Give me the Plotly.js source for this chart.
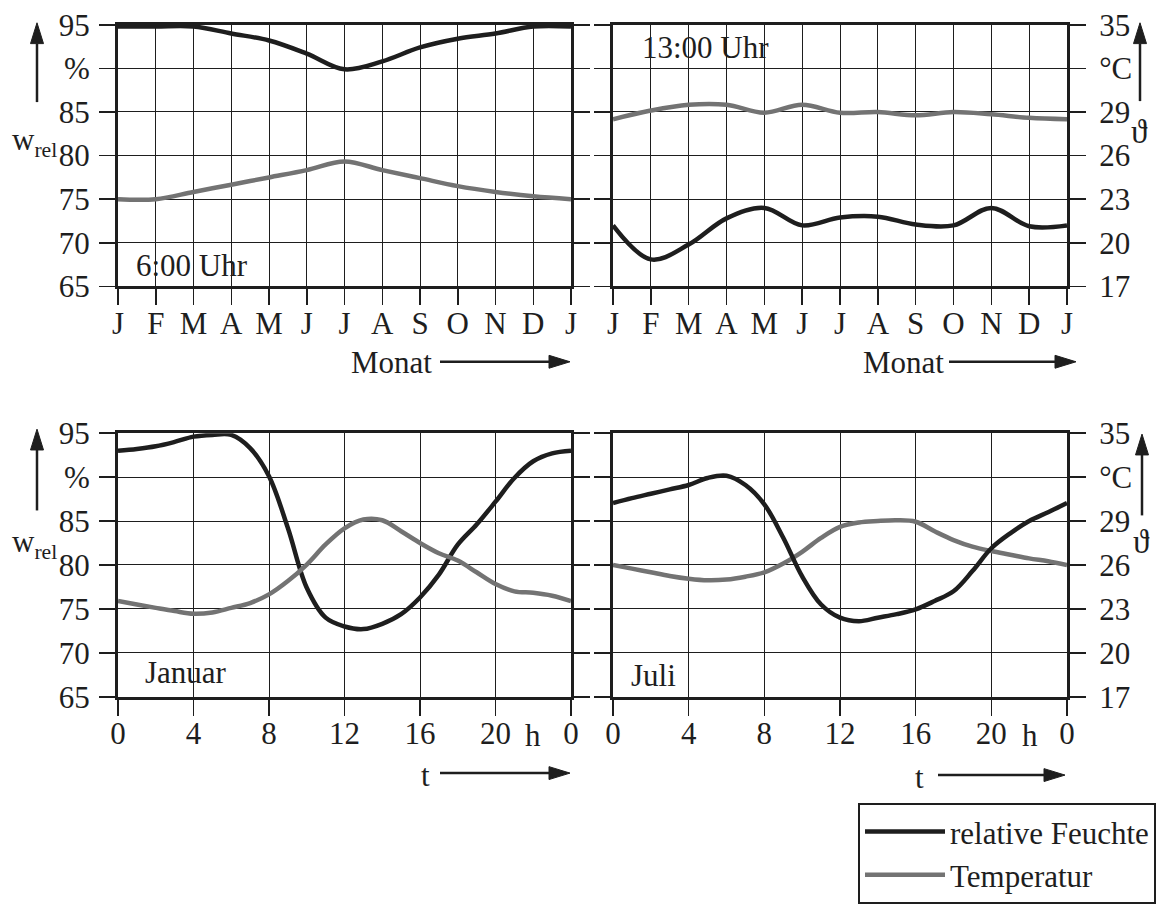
<!DOCTYPE html>
<html>
<head>
<meta charset="utf-8">
<script src="https://cdn.plot.ly/plotly-3.0.1.min.js"></script>
<style>html,body{margin:0;padding:0;background:#fff;}#chart{width:1167px;height:904px;}</style>
</head>
<body>
<div id="chart"></div>
<script>
// ---------- data ----------
const monthLabels = ['J','F','M','A','M','J','J','A','S','O','N','D','J'];
const monthIdx = [0,1,2,3,4,5,6,7,8,9,10,11,12];
const hourLabels = ['0','4','8','12','16','20','0'];
const hourTicks = [0,4,8,12,16,20,24];
const hours = [0,1,2,3,4,5,6,7,8,9,10,11,12,13,14,15,16,17,18,19,20,21,22,23,24];

const humidityTicks = [65,70,75,80,85,90,95];
const humidityTickText = ['65','70','75','80','85','%','95'];
const tempTicks = [17,20,23,26,29,32,35];
const tempTickText = ['17','20','23','26','29','°C','35'];

// 6:00 Uhr, monthly
const hum6 = [94.8,94.8,94.8,94.0,93.2,91.7,89.9,90.8,92.4,93.4,94.0,94.8,94.8];
const temp6 = [23.0,23.0,23.5,24.0,24.5,25.0,25.6,25.0,24.45,23.9,23.5,23.2,23.0];
// 13:00 Uhr, monthly
const hum13 = [72.0,68.1,69.8,72.8,74.0,72.0,72.9,73.0,72.1,72.0,74.0,71.9,72.0];
const temp13 = [28.5,29.1,29.5,29.5,28.95,29.5,28.95,29.0,28.77,29.0,28.84,28.6,28.5];
// Januar, hourly
const humJan = [93.0,93.2,93.5,94.0,94.6,94.8,94.8,93.3,90.1,84.2,77.4,74.0,73.0,72.7,73.3,74.4,76.3,78.9,82.3,84.6,87.2,89.9,91.8,92.7,93.0];
const tempJan = [23.54,23.3,23.07,22.85,22.67,22.76,23.07,23.4,23.99,24.9,26.03,27.4,28.5,29.1,29.05,28.3,27.5,26.8,26.3,25.5,24.7,24.2,24.1,23.9,23.54];
// Juli, hourly
const humJul = [87.05,87.6,88.1,88.6,89.1,89.9,90.15,89.1,86.9,83.1,78.7,75.5,74.0,73.6,74.0,74.4,74.95,75.9,77.0,79.3,81.9,83.6,85.0,86.0,87.05];
const tempJul = [26.0,25.75,25.5,25.25,25.06,24.95,25.0,25.2,25.5,26.1,26.9,27.85,28.6,28.9,29.0,29.05,28.95,28.3,27.7,27.25,26.95,26.7,26.45,26.25,26.0];

const seriesNames = ['relative Feuchte','Temperatur'];

// ---------- style ----------
const W = 1167, H = 904;
const INK = '#1e1e1e';
const GRAY = '#737373';
const FONT = 'Liberation Serif, Times New Roman, serif';
const FS = 31;
const px = x => x / W;
const py = y => 1 - y / H;

const domLeft = [px(118), px(571)];
const domRight = [px(613), px(1067)];
const domTop = [py(289), py(25)];
const domBot = [py(703), py(437)];

function xAx(domain, anchor, tickvals, ticktext, range) {
  return {
    domain: domain, anchor: anchor, range: range,
    tickmode: 'array', tickvals: tickvals, ticktext: ticktext,
    showgrid: true, gridcolor: INK, gridwidth: 1,
    showline: true, linecolor: INK, linewidth: 3, mirror: true,
    ticks: 'outside', ticklen: 16, tickwidth: 1.5, tickcolor: INK,
    tickfont: {family: FONT, size: FS, color: INK},
    ticklabelstandoff: -9,
    zeroline: false, fixedrange: true
  };
}
function yAx(domain, anchor, side, tickvals, ticktext, range) {
  return {
    domain: domain, anchor: anchor, side: side, range: range,
    tickmode: 'array', tickvals: tickvals, ticktext: ticktext,
    showgrid: true, gridcolor: INK, gridwidth: 1,
    showline: true, linecolor: INK, linewidth: 3, mirror: 'ticks',
    ticks: 'outside', ticklen: 16, tickwidth: 1.5, tickcolor: INK,
    tickfont: {family: FONT, size: FS, color: INK},
    ticklabelstandoff: side === 'right' ? 7 : 3,
    zeroline: false, fixedrange: true
  };
}
function hidden(over, anchor, range) {
  return {overlaying: over, anchor: anchor, range: range, visible: false, showgrid: false, zeroline: false, fixedrange: true};
}

function tr(x, y, xa, ya, color, name, legend) {
  return {
    x: x, y: y, xaxis: xa, yaxis: ya, type: 'scatter', mode: 'lines',
    line: {color: color, width: 4.5, shape: 'spline', smoothing: 1},
    name: name, showlegend: legend, hoverinfo: 'skip'
  };
}

const data = [
  tr(monthIdx, hum6, 'x', 'y', INK, seriesNames[0], true),
  tr(monthIdx, temp6, 'x', 'y5', GRAY, seriesNames[1], true),
  tr(monthIdx, hum13, 'x2', 'y6', INK, seriesNames[0], false),
  tr(monthIdx, temp13, 'x2', 'y2', GRAY, seriesNames[1], false),
  tr(hours, humJan, 'x3', 'y3', INK, seriesNames[0], false),
  tr(hours, tempJan, 'x3', 'y7', GRAY, seriesNames[1], false),
  tr(hours, humJul, 'x4', 'y8', INK, seriesNames[0], false),
  tr(hours, tempJul, 'x4', 'y4', GRAY, seriesNames[1], false)
];

function txt(x, y, text, xanchor, size) {
  return {xref: 'paper', yref: 'paper', x: px(x), y: py(y), text: text, showarrow: false,
          xanchor: xanchor || 'center', yanchor: 'middle',
          font: {family: FONT, size: size || FS, color: INK}};
}

// arrows as shapes: shaft + filled head (pixel positions converted to paper)
function arrowShapes(tx, ty, dir, len) {
  const headL = 21, headW = 6.5;
  let sx, sy, bx, by, p1, p2;
  if (dir === 'up') {
    sx = tx; sy = ty + len; bx = tx; by = ty + headL;
    p1 = [tx - headW, by]; p2 = [tx + headW, by];
  } else {
    sx = tx - len; sy = ty; bx = tx - headL; by = ty;
    p1 = [bx, ty - headW]; p2 = [bx, ty + headW];
  }
  return [
    {type: 'line', xref: 'paper', yref: 'paper', x0: px(sx), y0: py(sy), x1: px(bx), y1: py(by),
     line: {color: INK, width: 2.5}},
    {type: 'path', xref: 'paper', yref: 'paper',
     path: 'M' + px(tx) + ',' + py(ty) + ' L' + px(p1[0]) + ',' + py(p1[1]) + ' L' + px(p2[0]) + ',' + py(p2[1]) + ' Z',
     fillcolor: INK, line: {color: INK, width: 1}}
  ];
}

const shapes = [].concat(
  arrowShapes(37, 23, 'up', 80),
  arrowShapes(37, 433, 'up', 82),
  arrowShapes(1140, 23, 'up', 79),
  arrowShapes(1142, 438, 'up', 82),
  arrowShapes(570, 365, 'right', 130),
  arrowShapes(1076, 365, 'right', 127),
  arrowShapes(570, 780, 'right', 130),
  arrowShapes(1065, 782, 'right', 127)
);

const annotations = [
  txt(134, 268, '6:00 Uhr', 'left'),
  txt(640, 48, '13:00 Uhr', 'left'),
  txt(143, 679, 'Januar', 'left'),
  txt(629, 682, 'Juli', 'left'),
  txt(391, 366, 'Monat'),
  txt(903, 366, 'Monat'),
  txt(425, 782, 't'),
  txt(919, 784, 't'),
  txt(533, 742, 'h'),
  txt(1030, 742, 'h'),
  txt(10, 143, 'w<sub>rel</sub>', 'left'),
  txt(10, 549, 'w<sub>rel</sub>', 'left'),
  txt(1139, 133, 'ϑ', 'center', 33),
  txt(1141, 547, 'ϑ', 'center', 33)
];

const layout = {
  width: W, height: H,
  margin: {l: 0, r: 0, t: 0, b: 0},
  paper_bgcolor: '#fff', plot_bgcolor: '#fff',
  font: {family: FONT, size: FS, color: INK},
  showlegend: true,
  legend: {x: px(858), y: py(810), xanchor: 'left', yanchor: 'top',
           bordercolor: INK, borderwidth: 2, bgcolor: '#fff', itemwidth: 80,
           font: {family: FONT, size: 31, color: INK}, tracegroupgap: 0},
  xaxis: xAx(domLeft, 'y', monthIdx, monthLabels, [0, 12]),
  xaxis2: xAx(domRight, 'y2', monthIdx, monthLabels, [0, 12]),
  xaxis3: xAx(domLeft, 'y3', hourTicks, hourLabels, [0, 24]),
  xaxis4: xAx(domRight, 'y4', hourTicks, hourLabels, [0, 24]),
  yaxis: yAx(domTop, 'x', 'left', humidityTicks, humidityTickText, [65, 95]),
  yaxis2: yAx(domTop, 'x2', 'right', tempTicks, tempTickText, [17, 35]),
  yaxis3: yAx(domBot, 'x3', 'left', humidityTicks, humidityTickText, [65, 95]),
  yaxis4: yAx(domBot, 'x4', 'right', tempTicks, tempTickText, [17, 35]),
  yaxis5: hidden('y', 'x', [17, 35]),
  yaxis6: hidden('y2', 'x2', [65, 95]),
  yaxis7: hidden('y3', 'x3', [17, 35]),
  yaxis8: hidden('y4', 'x4', [65, 95]),
  shapes: shapes,
  annotations: annotations
};

Plotly.newPlot('chart', data, layout, {displayModeBar: false, staticPlot: true});
</script>
</body>
</html>
